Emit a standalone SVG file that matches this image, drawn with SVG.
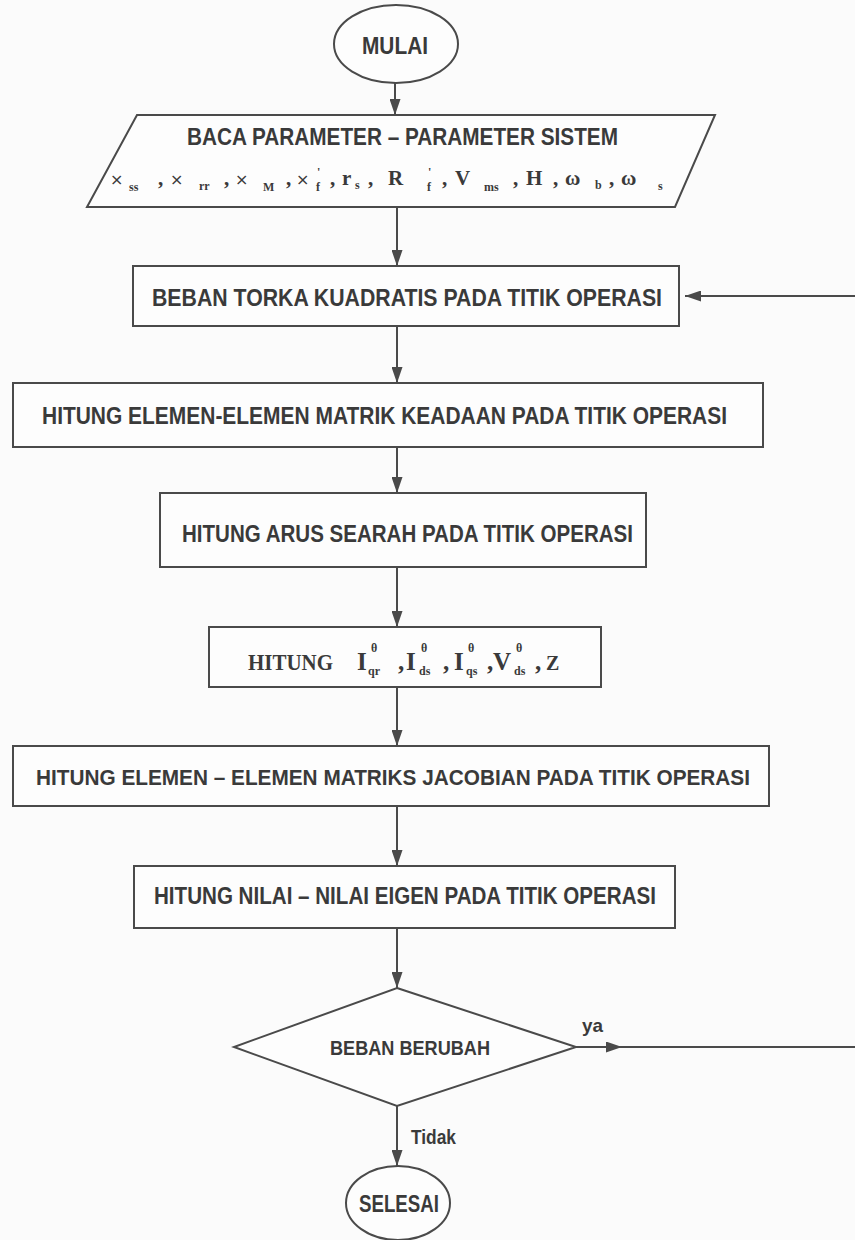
<svg xmlns="http://www.w3.org/2000/svg" width="855" height="1240" viewBox="0 0 855 1240">
<style>
.shape{fill:#fdfdfd;stroke:#4a4a4a;stroke-width:2}
.lbl{font-family:"Liberation Sans Narrow","Liberation Sans",Arial,sans-serif;font-weight:bold;fill:#3a3a3a}
.ser{font-family:"Liberation Serif","Times New Roman",serif;font-weight:bold;fill:#3a3a3a}
.ln{fill:none;stroke:#4a4a4a;stroke-width:2}
.x{font-family:"DejaVu Sans",sans-serif;font-weight:normal;font-size:16px;fill:#3a3a3a}
.sb{font-size:12px}
</style>
<defs>
<marker id="ah" markerUnits="userSpaceOnUse" markerWidth="16" markerHeight="11" refX="16" refY="5.5" orient="auto">
<path d="M0,0 L16,5.5 L0,11 z" fill="#4a4a4a"/>
</marker>
</defs>
<rect width="855" height="1240" fill="#fbfbfb"/>

<g id="connectors">
<line class="ln" x1="395" y1="83" x2="395" y2="115" marker-end="url(#ah)"/>
<line class="ln" x1="397" y1="207" x2="397" y2="266" marker-end="url(#ah)"/>
<line class="ln" x1="397" y1="326" x2="397" y2="383" marker-end="url(#ah)"/>
<line class="ln" x1="397" y1="447" x2="397" y2="493" marker-end="url(#ah)"/>
<line class="ln" x1="397" y1="567" x2="397" y2="627" marker-end="url(#ah)"/>
<line class="ln" x1="397" y1="687" x2="397" y2="746" marker-end="url(#ah)"/>
<line class="ln" x1="397" y1="806" x2="397" y2="866" marker-end="url(#ah)"/>
<line class="ln" x1="397" y1="928" x2="397" y2="988" marker-end="url(#ah)"/>
<line class="ln" x1="576" y1="1047" x2="622" y2="1047" marker-end="url(#ah)"/>
<path class="ln" d="M620,1047 L860,1047 L860,296 L685,296" marker-end="url(#ah)"/>
<line class="ln" x1="397" y1="1106" x2="397" y2="1166" marker-end="url(#ah)"/>
<text class="lbl" x="582" y="1032" font-size="19" textLength="21" lengthAdjust="spacingAndGlyphs">ya</text>
<text class="lbl" x="411" y="1144" font-size="20" textLength="45" lengthAdjust="spacingAndGlyphs">Tidak</text>
</g>

<g id="mulai">
<ellipse class="shape" cx="396" cy="44" rx="62" ry="39"/>
<text class="lbl" x="395" y="54" font-size="23" text-anchor="middle" textLength="66" lengthAdjust="spacingAndGlyphs">MULAI</text>
</g>

<g id="baca">
<polygon class="shape" points="137,115 715,115 675,207 87,207"/>
<text class="lbl" x="187" y="145" font-size="24" textLength="431" lengthAdjust="spacingAndGlyphs">BACA PARAMETER – PARAMETER SISTEM</text>
<text class="ser" font-size="21">
<tspan class="x" x="110" y="185">×</tspan><tspan class="sb" x="129" y="191">ss</tspan>
<tspan x="158" y="185">,</tspan><tspan class="x" x="170" y="185">×</tspan><tspan class="sb" x="199" y="190">rr</tspan>
<tspan x="224" y="185">,</tspan><tspan class="x" x="235" y="185">×</tspan><tspan class="sb" x="263" y="191" font-size="13">M</tspan>
<tspan x="286" y="185">,</tspan><tspan class="x" x="296" y="185">×</tspan><tspan class="sb" x="317" y="176">'</tspan><tspan class="sb" x="316" y="191">f</tspan>
<tspan x="330" y="185">,</tspan><tspan x="342" y="185">r</tspan><tspan class="sb" x="355" y="189">s</tspan>
<tspan x="368" y="185">,</tspan><tspan x="388" y="185">R</tspan><tspan class="sb" x="428" y="176">'</tspan><tspan class="sb" x="427" y="191">f</tspan>
<tspan x="442" y="185">,</tspan><tspan x="455" y="185">V</tspan><tspan class="sb" x="484" y="191">ms</tspan>
<tspan x="513" y="185">,</tspan><tspan x="526" y="185">H</tspan>
<tspan x="553" y="185">,</tspan><tspan x="565" y="185">ω</tspan><tspan class="sb" x="595" y="189">b</tspan>
<tspan x="609" y="185">,</tspan><tspan x="621" y="185">ω</tspan><tspan class="sb" x="658" y="190">s</tspan>
</text>
</g>

<g id="beban-torka">
<rect class="shape" x="133" y="266" width="546" height="60"/>
<text class="lbl" x="152" y="306" font-size="24" textLength="510" lengthAdjust="spacingAndGlyphs">BEBAN TORKA KUADRATIS PADA TITIK OPERASI</text>
</g>

<g id="matrik-keadaan">
<rect class="shape" x="13" y="383" width="750" height="64"/>
<text class="lbl" x="42" y="424" font-size="23" textLength="685" lengthAdjust="spacingAndGlyphs">HITUNG ELEMEN-ELEMEN MATRIK KEADAAN PADA TITIK OPERASI</text>
</g>

<g id="arus-searah">
<rect class="shape" x="160" y="493" width="486" height="74"/>
<text class="lbl" x="182" y="542" font-size="24" textLength="451" lengthAdjust="spacingAndGlyphs">HITUNG ARUS SEARAH PADA TITIK OPERASI</text>
</g>

<g id="hitung-i">
<rect class="shape" x="209" y="627" width="392" height="60"/>
<text class="ser" font-size="25">
<tspan x="248" y="670" font-size="23" textLength="85" lengthAdjust="spacingAndGlyphs">HITUNG</tspan>
<tspan x="357" y="670">I</tspan><tspan x="371" y="652" font-size="12">θ</tspan><tspan x="368" y="675" font-size="12">qr</tspan>
<tspan x="398" y="670">,</tspan><tspan x="406" y="670">I</tspan><tspan x="421" y="652" font-size="12">θ</tspan><tspan x="419" y="675" font-size="12">ds</tspan>
<tspan x="443" y="670">,</tspan><tspan x="454" y="670">I</tspan><tspan x="468" y="652" font-size="12">θ</tspan><tspan x="466" y="675" font-size="12">qs</tspan>
<tspan x="487" y="670">,</tspan><tspan x="493" y="670">V</tspan><tspan x="516" y="652" font-size="12">θ</tspan><tspan x="514" y="675" font-size="12">ds</tspan>
<tspan x="535" y="670">,</tspan><tspan x="546" y="670" font-size="20">Z</tspan>
</text>
</g>

<g id="matriks-jacobian">
<rect class="shape" x="13" y="746" width="756" height="60"/>
<text class="lbl" x="36" y="785" font-size="22" textLength="714" lengthAdjust="spacingAndGlyphs">HITUNG ELEMEN – ELEMEN MATRIKS JACOBIAN PADA TITIK OPERASI</text>
</g>

<g id="nilai-eigen">
<rect class="shape" x="134" y="866" width="541" height="62"/>
<text class="lbl" x="154" y="904" font-size="24" textLength="502" lengthAdjust="spacingAndGlyphs">HITUNG NILAI – NILAI EIGEN PADA TITIK OPERASI</text>
</g>

<g id="beban-berubah">
<polygon class="shape" points="397,988 576,1047 397,1106 234,1047"/>
<text class="lbl" x="410" y="1055" font-size="21" text-anchor="middle" textLength="160" lengthAdjust="spacingAndGlyphs">BEBAN BERUBAH</text>
</g>

<g id="selesai">
<ellipse class="shape" cx="398" cy="1203" rx="52" ry="37"/>
<text class="lbl" x="399" y="1212" font-size="23" text-anchor="middle" textLength="80" lengthAdjust="spacingAndGlyphs">SELESAI</text>
</g>
</svg>
